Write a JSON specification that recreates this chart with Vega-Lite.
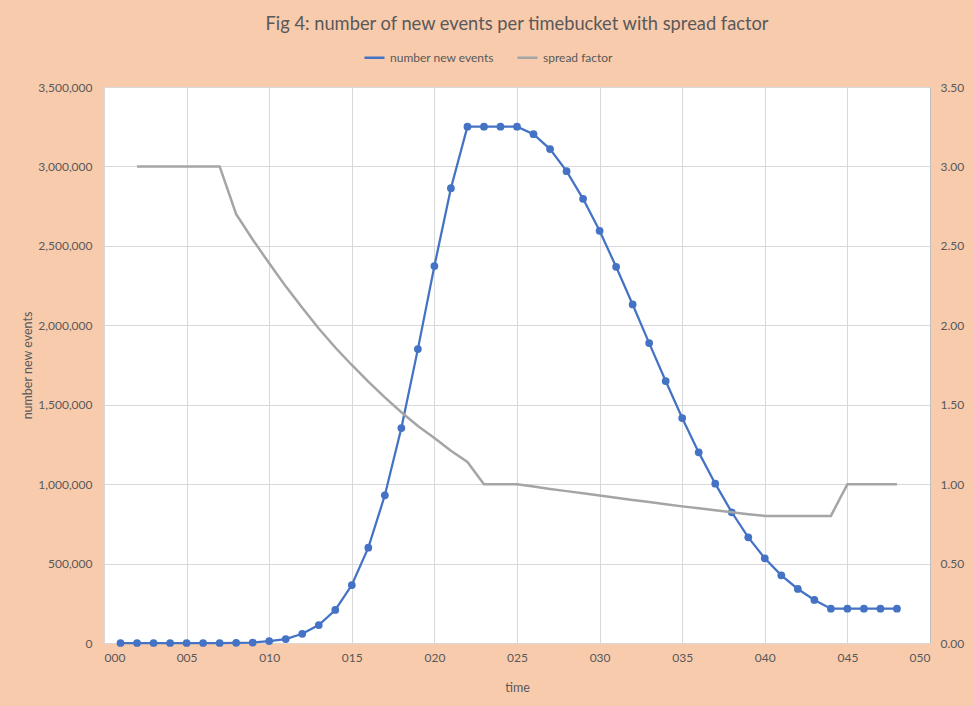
{
  "$schema": "https://vega.github.io/schema/vega-lite/v6.json",
  "width": 826,
  "height": 556,
  "autosize": {"type": "none"},
  "padding": {"left": 104, "top": 87, "right": 44, "bottom": 63},
  "background": "#F8CBAD",
  "title": {
    "text": "Fig 4: number of new events per timebucket with spread factor",
    "anchor": "middle",
    "font": "Lato",
    "fontSize": 18.3,
    "fontWeight": "normal",
    "color": "#595959",
    "offset": 12
  },
  "config": {
    "view": {"fill": "white", "stroke": null},
    "axis": {
      "labelFont": "Lato",
      "labelFontSize": 12,
      "labelColor": "#595959",
      "titleFont": "Lato",
      "titleFontSize": 12.5,
      "titleFontWeight": "normal",
      "titleColor": "#595959",
      "gridColor": "#D9D9D9",
      "gridWidth": 1,
      "domainColor": "#D9D9D9",
      "ticks": false
    },
    "legend": {
      "labelFont": "Lato",
      "labelFontSize": 12,
      "labelColor": "#595959"
    }
  },
  "data": {
    "values": [
      {"t": 1, "events": 0, "spread": null},
      {"t": 2, "events": 0, "spread": 3.0},
      {"t": 3, "events": 0, "spread": 3.0},
      {"t": 4, "events": 0, "spread": 3.0},
      {"t": 5, "events": 0, "spread": 3.0},
      {"t": 6, "events": 0, "spread": 3.0},
      {"t": 7, "events": 0, "spread": 3.0},
      {"t": 8, "events": 1000, "spread": 2.70},
      {"t": 9, "events": 3000, "spread": 2.54},
      {"t": 10, "events": 12000, "spread": 2.39},
      {"t": 11, "events": 25000, "spread": 2.245},
      {"t": 12, "events": 58000, "spread": 2.11},
      {"t": 13, "events": 113000, "spread": 1.98},
      {"t": 14, "events": 208000, "spread": 1.86},
      {"t": 15, "events": 365000, "spread": 1.75},
      {"t": 16, "events": 600000, "spread": 1.645},
      {"t": 17, "events": 930000, "spread": 1.546},
      {"t": 18, "events": 1353000, "spread": 1.453},
      {"t": 19, "events": 1850000, "spread": 1.366},
      {"t": 20, "events": 2373000, "spread": 1.29},
      {"t": 21, "events": 2863000, "spread": 1.21},
      {"t": 22, "events": 3250000, "spread": 1.14},
      {"t": 23, "events": 3250000, "spread": 1.0},
      {"t": 24, "events": 3250000, "spread": 1.0},
      {"t": 25, "events": 3250000, "spread": 1.0},
      {"t": 26, "events": 3203000, "spread": 0.985},
      {"t": 27, "events": 3109000, "spread": 0.970},
      {"t": 28, "events": 2970000, "spread": 0.956},
      {"t": 29, "events": 2796000, "spread": 0.942},
      {"t": 30, "events": 2595000, "spread": 0.928},
      {"t": 31, "events": 2368000, "spread": 0.914},
      {"t": 32, "events": 2131000, "spread": 0.900},
      {"t": 33, "events": 1888000, "spread": 0.887},
      {"t": 34, "events": 1649000, "spread": 0.873},
      {"t": 35, "events": 1416000, "spread": 0.860},
      {"t": 36, "events": 1200000, "spread": 0.848},
      {"t": 37, "events": 1003000, "spread": 0.835},
      {"t": 38, "events": 823000, "spread": 0.823},
      {"t": 39, "events": 665000, "spread": 0.811},
      {"t": 40, "events": 533000, "spread": 0.80},
      {"t": 41, "events": 426000, "spread": 0.80},
      {"t": 42, "events": 340000, "spread": 0.80},
      {"t": 43, "events": 271000, "spread": 0.80},
      {"t": 44, "events": 216000, "spread": 0.80},
      {"t": 45, "events": 216000, "spread": 1.0},
      {"t": 46, "events": 216000, "spread": 1.0},
      {"t": 47, "events": 216000, "spread": 1.0},
      {"t": 48, "events": 216000, "spread": 1.0}
    ]
  },
  "encoding": {
    "x": {
      "field": "t",
      "type": "quantitative",
      "scale": {"domain": [0, 50], "nice": false, "zero": false},
      "axis": {
        "title": "time",
        "values": [0, 5, 10, 15, 20, 25, 30, 35, 40, 45, 50],
        "format": "03d",
        "labelPadding": 9,
        "titlePadding": 18,
        "grid": true
      }
    }
  },
  "layer": [
    {
      "mark": {"type": "line", "strokeWidth": 2.25, "point": {"filled": true, "size": 60}},
      "encoding": {
        "y": {
          "field": "events",
          "type": "quantitative",
          "scale": {"domain": [0, 3500000], "nice": false},
          "axis": {
            "title": "number new events",
            "values": [0, 500000, 1000000, 1500000, 2000000, 2500000, 3000000, 3500000],
            "format": ",d",
            "labelPadding": 12,
            "titlePadding": 3,
            "grid": true
          }
        },
        "color": {
          "datum": "number new events",
          "type": "nominal",
          "scale": {"domain": ["number new events", "spread factor"], "range": ["#4472C4", "#A5A5A5"]},
          "legend": {
            "title": null,
            "orient": "none",
            "legendX": 259,
            "legendY": -41,
            "direction": "horizontal",
            "symbolType": "stroke",
            "symbolStrokeWidth": 2.5,
            "symbolSize": 400,
            "columnPadding": 18,
            "labelOffset": 4
          }
        }
      }
    },
    {
      "transform": [{"filter": "datum.spread != null"}],
      "mark": {"type": "line", "strokeWidth": 2.5},
      "encoding": {
        "y": {
          "field": "spread",
          "type": "quantitative",
          "scale": {"domain": [0, 3.5], "nice": false},
          "axis": {
            "orient": "right",
            "title": null,
            "values": [0, 0.5, 1, 1.5, 2, 2.5, 3, 3.5],
            "format": ".2f",
            "labelPadding": 10,
            "grid": false,
            "domainColor": "#BFBFBF"
          }
        },
        "color": {"datum": "spread factor", "type": "nominal"}
      }
    }
  ],
  "resolve": {"scale": {"y": "independent"}}
}
